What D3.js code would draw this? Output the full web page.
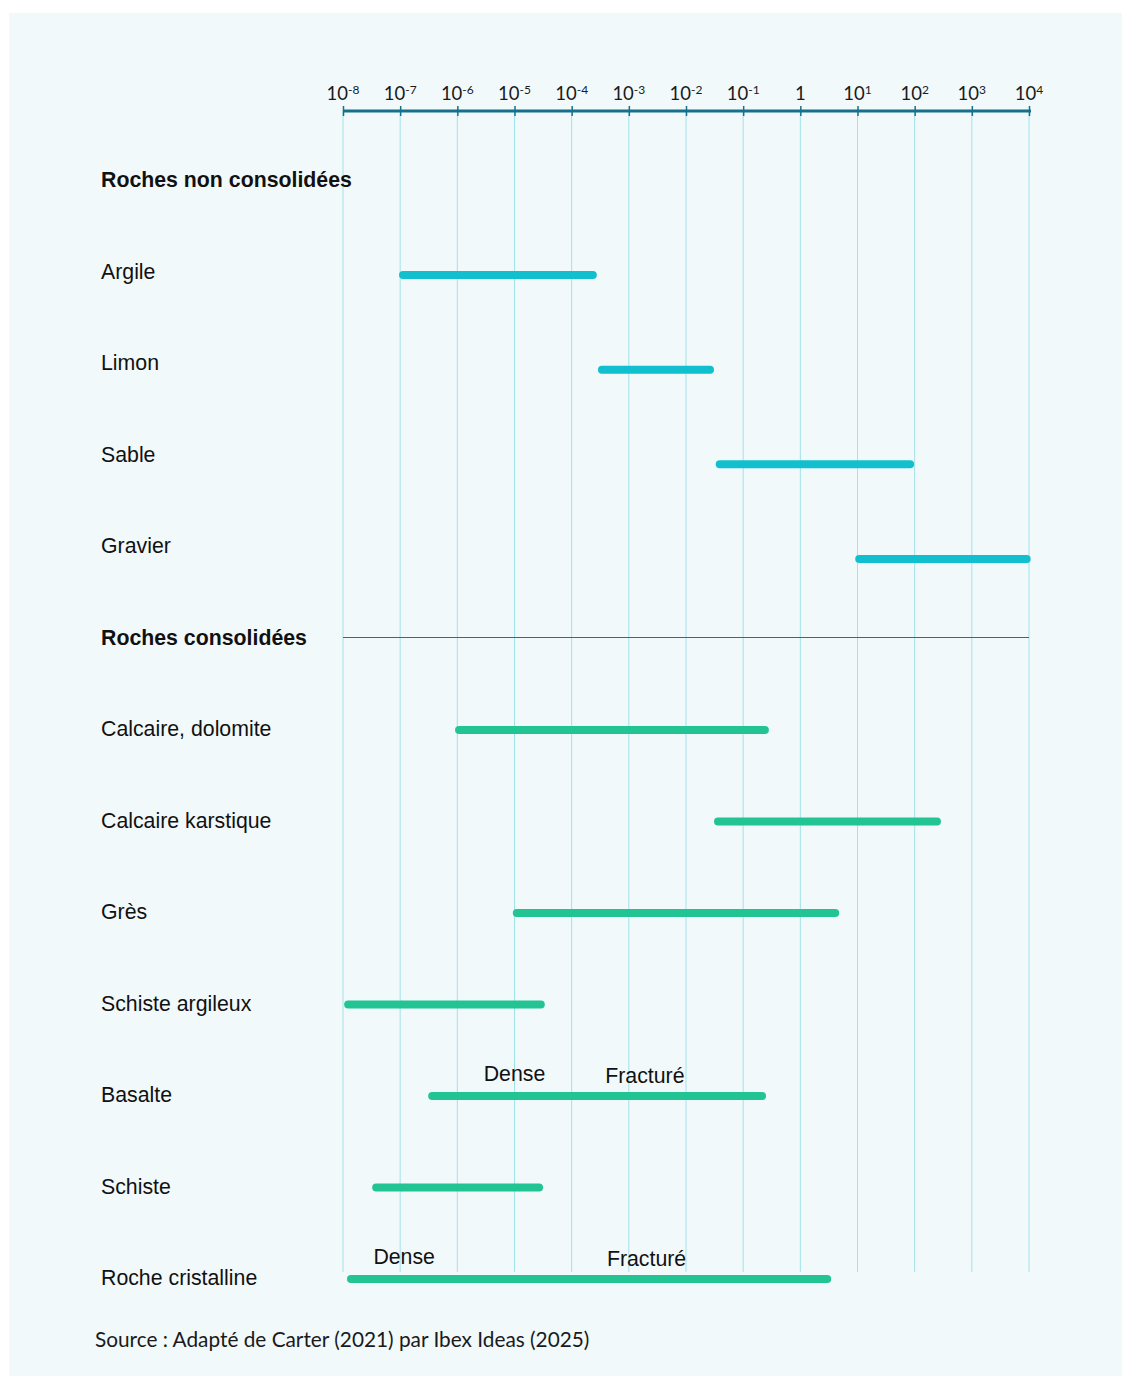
<!DOCTYPE html>
<html>
<head>
<meta charset="utf-8">
<script src="https://cdn.jsdelivr.net/npm/d3@7"></script>
<style>
  html, body { margin: 0; padding: 0; background: #ffffff; }
  svg { display: block; }
</style>
</head>
<body>
<div id="chart"></div>
<script>
// exponents of ten shown on the top axis
const tickExponents = [-8, -7, -6, -5, -4, -3, -2, -1, 0, 1, 2, 3, 4];

// row order, top to bottom (headers included)
const rows = [
  'Roches non consolidées',
  'Argile', 'Limon', 'Sable', 'Gravier',
  'Roches consolidées',
  'Calcaire, dolomite', 'Calcaire karstique', 'Grès', 'Schiste argileux',
  'Basalte', 'Schiste', 'Roche cristalline'
];
const headers = ['Roches non consolidées', 'Roches consolidées'];

// ranges as log10 exponents
const unconsolidated = [
  { name: 'Argile', from: -6.95, to: -3.63 },
  { name: 'Limon', from: -3.47, to: -1.58 },
  { name: 'Sable', from: -1.41, to: 1.92 },
  { name: 'Gravier', from: 1.03, to: 3.96 }
];
const consolidated = [
  { name: 'Calcaire, dolomite', from: -5.97, to: -0.62 },
  { name: 'Calcaire karstique', from: -1.44, to: 2.39 },
  { name: 'Grès', from: -4.96, to: 0.61 },
  { name: 'Schiste argileux', from: -7.91, to: -4.54 },
  { name: 'Basalte', from: -6.44, to: -0.67 },
  { name: 'Schiste', from: -7.42, to: -4.57 },
  { name: 'Roche cristalline', from: -7.86, to: 0.47 }
];

// Dense / Fracturé annotations (exponent of label centre)
const annotations = [
  { row: 'Basalte', text: 'Dense', at: -5.0 },
  { row: 'Basalte', text: 'Fracturé', at: -2.72 },
  { row: 'Roche cristalline', text: 'Dense', at: -6.93 },
  { row: 'Roche cristalline', text: 'Fracturé', at: -2.69 }
];

const sourceText = 'Source : Adapté de Carter (2021) par Ibex Ideas (2025)';

const width = 1122;
const height = 1381;

const svg = d3.select('#chart').append('svg')
  .attr('width', width)
  .attr('height', height);

svg.append('rect')
  .attr('x', 9).attr('y', 13)
  .attr('width', width - 9).attr('height', 1363)
  .attr('fill', '#f1f9fb');

const x = d3.scaleLinear().domain([-8, 4]).range([343, 1029]);

const y = d3.scalePoint().domain(rows).range([180, 1278]);

// the bars of the first group sit on a slightly wider spacing
const yLoose = d3.scaleLinear().domain([0, 3]).range([275, 559]);

const axisY = 111;
const gridBottom = 1272;

// grid
svg.append('g')
  .selectAll('line')
  .data(tickExponents)
  .join('line')
  .attr('x1', d => x(d)).attr('x2', d => x(d))
  .attr('y1', axisY).attr('y2', gridBottom)
  .attr('stroke', '#a2e2e9')
  .attr('stroke-width', 1);

// top axis
const axis = d3.axisTop(x)
  .tickValues(tickExponents)
  .tickSize(5)
  .tickFormat('');

const axisG = svg.append('g')
  .attr('transform', `translate(0,${axisY})`)
  .call(axis);
axisG.select('.domain').remove();
axisG.append('line')
  .attr('x1', x(-8)).attr('x2', x(4) + 2)
  .attr('stroke', '#16708b')
  .attr('stroke-width', 3);
axisG.selectAll('.tick line')
  .attr('y1', -5).attr('y2', 5)
  .attr('stroke', '#16708b')
  .attr('stroke-width', 1.5);

const labelFont = 'Lato, "Open Sans", sans-serif';
const rowFont = '"Liberation Sans", Arial, sans-serif';

const tickText = svg.append('g')
  .selectAll('text')
  .data(tickExponents)
  .join('text')
  .attr('x', d => x(d))
  .attr('y', 100)
  .attr('text-anchor', 'middle')
  .attr('font-family', labelFont)
  .attr('font-size', 18.5)
  .attr('fill', '#1a1a1a');

tickText.each(function (d) {
  const t = d3.select(this);
  if (d === 0) {
    t.text('1');
    return;
  }
  t.append('tspan').text('10');
  t.append('tspan')
    .attr('dy', -6)
    .attr('font-size', 12)
    .text(d);
});

// separator under "Roches consolidées"
svg.append('line')
  .attr('x1', x(-8)).attr('x2', x(4))
  .attr('y1', y('Roches consolidées')).attr('y2', y('Roches consolidées'))
  .attr('stroke', '#2a6f86')
  .attr('stroke-width', 1);

// row labels
svg.append('g')
  .selectAll('text')
  .data(rows)
  .join('text')
  .attr('x', 101)
  .attr('y', d => y(d))
  .attr('dy', '0.35em')
  .attr('font-family', rowFont)
  .attr('font-size', 21.3)
  .attr('font-weight', d => headers.includes(d) ? 'bold' : 'normal')
  .attr('fill', '#111111')
  .text(d => d);

// bars
svg.append('g')
  .selectAll('line')
  .data(unconsolidated)
  .join('line')
  .attr('x1', d => x(d.from)).attr('x2', d => x(d.to))
  .attr('y1', (d, i) => yLoose(i)).attr('y2', (d, i) => yLoose(i))
  .attr('stroke', '#12bfce')
  .attr('stroke-width', 8)
  .attr('stroke-linecap', 'round');

svg.append('g')
  .selectAll('line')
  .data(consolidated)
  .join('line')
  .attr('x1', d => x(d.from)).attr('x2', d => x(d.to))
  .attr('y1', d => y(d.name) + 1).attr('y2', d => y(d.name) + 1)
  .attr('stroke', '#22c493')
  .attr('stroke-width', 8)
  .attr('stroke-linecap', 'round');

// annotations
svg.append('g')
  .selectAll('text')
  .data(annotations)
  .join('text')
  .attr('x', d => x(d.at))
  .attr('y', d => y(d.row) - (d.text === 'Dense' ? 14 : 12))
  .attr('text-anchor', 'middle')
  .attr('font-family', rowFont)
  .attr('font-size', 21.3)
  .attr('fill', '#111111')
  .text(d => d.text);

// source
svg.append('text')
  .attr('x', 95)
  .attr('y', 1347)
  .attr('font-family', labelFont)
  .attr('font-size', 20.8)
  .attr('fill', '#1a1a1a')
  .text(sourceText);
</script>
</body>
</html>
